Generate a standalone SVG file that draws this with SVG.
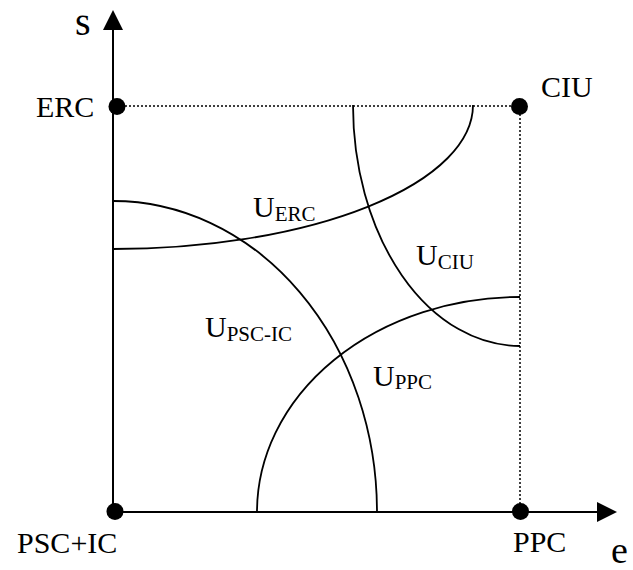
<svg xmlns="http://www.w3.org/2000/svg" width="633" height="570" viewBox="0 0 633 570" font-family="'Liberation Serif', 'Times New Roman', 'DejaVu Serif', serif">
<style>
text{font-family:"Liberation Serif","Times New Roman","DejaVu Serif",serif;fill:#000}
.lbl{font-size:30px}
.sub{font-size:21px}
.axis{stroke:#000;stroke-width:2;fill:none}
.curve{stroke:#000;stroke-width:1.8;fill:none}
.dot{stroke:#000;stroke-width:1.5;stroke-dasharray:2 2;fill:none}
.pt{fill:#000}
</style>
<rect width="633" height="570" fill="#fff"/>
<g id="connectors">
<line class="axis" x1="113" y1="512" x2="113" y2="28"/>
<polygon points="113,10 103,30 123,30" fill="#000"/>
<line class="axis" x1="113" y1="512" x2="599" y2="512"/>
<polygon points="617,512 597,502 597,522" fill="#000"/>
<line class="dot" x1="117" y1="106" x2="519" y2="106"/>
<line class="dot" x1="520" y1="106" x2="520" y2="512"/>
<path class="curve" d="M113,249 A360,144 0 0 0 473,105"/>
<path class="curve" d="M113,201 A264,311 0 0 1 377,512"/>
<path class="curve" d="M257,512 A263,215 0 0 1 520,297"/>
<path class="curve" d="M353,105 A167,241 0 0 0 520,346"/>
</g>
<g id="axis-s"><text x="75" y="35" font-size="40">s</text></g>
<g id="axis-e"><text x="611" y="563" font-size="38">e</text></g>
<g id="ERC"><circle class="pt" cx="117" cy="106.5" r="8.5"/><text class="lbl" x="36" y="117">ERC</text></g>
<g id="CIU"><circle class="pt" cx="519.5" cy="106.5" r="8.5"/><text class="lbl" x="541" y="97">CIU</text></g>
<g id="PSC-IC"><circle class="pt" cx="115" cy="511.5" r="8.5"/><text class="lbl" x="17" y="553">PSC+IC</text></g>
<g id="PPC"><circle class="pt" cx="520.5" cy="511.5" r="8.5"/><text class="lbl" x="513" y="552">PPC</text></g>
<g id="U_ERC"><text class="lbl" x="253" y="217">U<tspan class="sub" dy="4">ERC</tspan></text></g>
<g id="U_PSC-IC"><text class="lbl" x="205" y="337">U<tspan class="sub" dy="4">PSC-IC</tspan></text></g>
<g id="U_CIU"><text class="lbl" x="416" y="265">U<tspan class="sub" dy="4">CIU</tspan></text></g>
<g id="U_PPC"><text class="lbl" x="373" y="386">U<tspan class="sub" dy="3">PPC</tspan></text></g>
</svg>
